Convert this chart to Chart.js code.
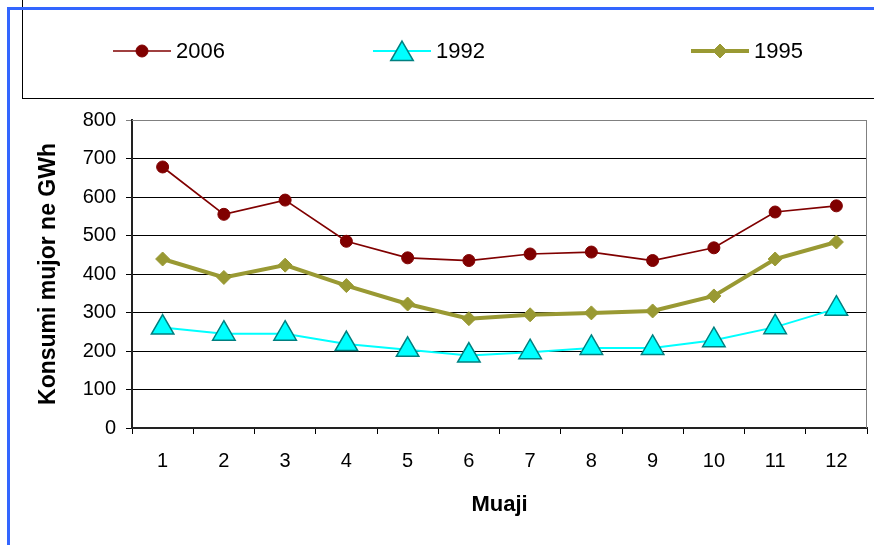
<!DOCTYPE html>
<html>
<head>
<meta charset="utf-8">
<script src="https://cdn.jsdelivr.net/npm/chart.js@4"></script>
<style>
  body { margin: 0; background: #fff; }
  #wrap { position: relative; width: 874px; height: 545px; overflow: hidden; }
  #blue { position: absolute; left: 7px; top: 7px; right: -10px; bottom: -10px;
          border-left: 3px solid #3366ff; border-top: 3px solid #3366ff; }
  #legendBox { position: absolute; left: 22px; top: 0; width: 900px; height: 98px;
               border: 1px solid #000; border-top: none; }
  canvas { position: absolute; left: 0; top: 0; }
</style>
</head>
<body>
<div id="wrap">
  <div id="legendBox"></div>
  <div id="blue"></div>
  <canvas id="myChart" width="874" height="545"></canvas>
</div>
<script>
var months = ['1', '2', '3', '4', '5', '6', '7', '8', '9', '10', '11', '12'];
var seriesNames = ['2006', '1992', '1995'];
var data2006 = [678, 555, 592, 485, 442, 435, 452, 457, 435, 468, 561, 577];
var data1992 = [261, 245, 245, 218, 203, 188, 197, 208, 208, 228, 262, 310];
var data1995 = [439, 391, 423, 370, 322, 284, 294, 299, 304, 343, 439, 483];
var yTicks = [0, 100, 200, 300, 400, 500, 600, 700, 800];

document.addEventListener('DOMContentLoaded', function() {
    "use strict";

    var fontFamily = '"Liberation Sans", Arial, sans-serif';
    var legendX = [113, 373, 691];

    // legend drawn inside the boxed area at the top, plus grey plot border
    var boxLegend = {
        id: 'boxLegend',
        beforeDatasetsDraw: function(chart) {
            var ctx = chart.ctx, a = chart.chartArea;
            ctx.save();
            ctx.strokeStyle = '#808080';
            ctx.lineWidth = 1;
            ctx.beginPath();
            ctx.moveTo(a.left, a.top + 0.5);
            ctx.lineTo(a.right - 0.5, a.top + 0.5);
            ctx.lineTo(a.right - 0.5, a.bottom);
            ctx.stroke();
            ctx.restore();
        },
        afterDraw: function(chart) {
            var ctx = chart.ctx;
            ctx.save();
            chart.data.datasets.forEach(function(ds, i) {
                var x0 = legendX[i], y = 51;
                ctx.strokeStyle = ds.borderColor;
                ctx.lineWidth = ds.borderWidth;
                ctx.beginPath();
                ctx.moveTo(x0, y);
                ctx.lineTo(x0 + 58, y);
                ctx.stroke();
                ctx.fillStyle = ds.pointBackgroundColor;
                ctx.strokeStyle = ds.pointBorderColor;
                ctx.lineWidth = ds.pointBorderWidth;
                Chart.helpers.drawPoint(ctx, {
                    pointStyle: ds.pointStyle,
                    radius: ds.pointRadius,
                    borderWidth: ds.pointBorderWidth,
                    rotation: 0
                }, x0 + 29, y + (ds.pointStyle === 'triangle' ? 3 : 0));
                ctx.fillStyle = '#000';
                ctx.font = '22px ' + fontFamily;
                ctx.textBaseline = 'middle';
                ctx.fillText(ds.label, x0 + 63, y + 1);
            });
            ctx.restore();
        }
    };

    var ctx = document.getElementById('myChart').getContext('2d');
    var chart = new Chart(ctx, {
        type: 'line',
        data: {
            labels: months,
            datasets: [{
                label: seriesNames[0],
                data: data2006,
                borderColor: '#800000',
                borderWidth: 1.7,
                pointStyle: 'circle',
                pointRadius: 6,
                pointBackgroundColor: '#800000',
                pointBorderColor: '#800000',
                pointBorderWidth: 1,
                tension: 0
            },
            {
                label: seriesNames[1],
                data: data1992,
                borderColor: '#00ffff',
                borderWidth: 2,
                pointStyle: 'triangle',
                pointRadius: 13,
                pointBackgroundColor: '#00ffff',
                pointBorderColor: '#008080',
                pointBorderWidth: 1.5,
                tension: 0
            },
            {
                label: seriesNames[2],
                data: data1995,
                borderColor: '#999933',
                borderWidth: 4,
                pointStyle: 'rectRot',
                pointRadius: 7,
                pointBackgroundColor: '#999933',
                pointBorderColor: '#999933',
                pointBorderWidth: 1,
                tension: 0
            }]
        },
        options: {
            responsive: false,
            animation: false,
            layout: { autoPadding: false, padding: { top: 120, right: 7, left: 30, bottom: 0 } },
            plugins: {
                legend: { display: false },
                tooltip: { enabled: false }
            },
            scales: {
                x: {
                    offset: true,
                    afterFit: function(scale) {
                        scale.height = 117;
                        scale.paddingRight = 0;
                        scale.paddingLeft = 0;
                    },
                    grid: { offset: true, drawOnChartArea: false, drawTicks: true, tickLength: 6, color: '#000' },
                    border: { color: '#222', width: 2 },
                    ticks: { color: '#000', padding: 15, font: { family: fontFamily, size: 20 } },
                    title: {
                        display: true, text: 'Muaji', color: '#000',
                        font: { family: fontFamily, size: 22, weight: 'bold' },
                        padding: { top: 0, bottom: 27 }
                    }
                },
                y: {
                    min: 0,
                    max: 800,
                    afterFit: function(scale) { scale.width = 102; },
                    afterBuildTicks: function(scale) {
                        scale.ticks = yTicks.map(function(v) { return { value: v }; });
                    },
                    grid: {
                        color: function(c) { return c.tick && c.tick.value === 800 ? '#808080' : '#000'; },
                        tickLength: 6,
                        lineWidth: 1
                    },
                    border: { color: '#222', width: 2 },
                    ticks: { color: '#000', padding: 10, font: { family: fontFamily, size: 20 } },
                    title: {
                        display: true, text: 'Konsumi mujor ne GWh', color: '#000',
                        font: { family: fontFamily, size: 23, weight: 'bold' },
                        padding: { top: 5, bottom: 0 }
                    }
                }
            }
        },
        plugins: [boxLegend]
    });
});
</script>
</body>
</html>
